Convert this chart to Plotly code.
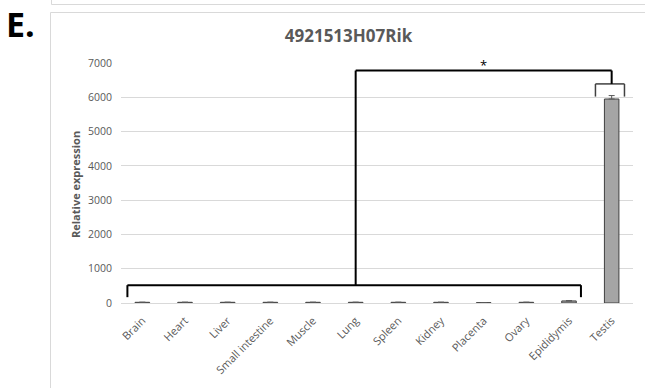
import plotly.graph_objects as go

# ---- data ----
tissues = ["Brain", "Heart", "Liver", "Small intestine", "Muscle", "Lung",
           "Spleen", "Kidney", "Placenta", "Ovary", "Epididymis", "Testis"]
expression = [20, 20, 20, 20, 20, 20, 20, 20, 10, 20, 60, 5950]
error_up = [0, 0, 0, 0, 0, 0, 0, 0, 0, 0, 10, 100]
error_down = [0, 0, 0, 0, 0, 0, 0, 0, 0, 0, 0, 0]
y_ticks = [0, 1000, 2000, 3000, 4000, 5000, 6000, 7000]
title_text = "4921513H07Rik"
y_title = "Relative expression"
panel_label = "E."
sig_label = "*"

# significance brackets (category index / value units)
group_bracket = dict(x0=-0.35, x1=10.28, y_top=520, y_end=170)
testis_bracket = dict(x0=10.62, x1=11.3, y_top=6390, y_end=6020)
link_y = 6780
link_x0 = 5
link_x1 = 11

W, H = 645, 388
L, R, T, B = 121, 12, 63, 85
pw, ph = W - L - R, H - T - B

def px_x(p):
    return (p - L) / pw

def px_y(p):
    return (H - B - p) / ph

grey_txt = "#595959"
line_col = "#000000"

fig = go.Figure()
fig.add_trace(go.Bar(
    x=tissues, y=expression,
    marker=dict(color="#a5a5a5", line=dict(color="#404040", width=1)),
    error_y=dict(type="data", array=error_up, arrayminus=error_down, visible=True,
                 color="#595959", thickness=1, width=3),
    showlegend=False,
))

shapes = []
lw = 2
gb = group_bracket
shapes.append(dict(type="line", xref="x", yref="y", x0=gb["x0"], x1=gb["x1"],
                   y0=gb["y_top"], y1=gb["y_top"], line=dict(color=line_col, width=lw)))
shapes.append(dict(type="line", xref="x", yref="y", x0=gb["x0"], x1=gb["x0"],
                   y0=gb["y_top"], y1=gb["y_end"], line=dict(color=line_col, width=lw)))
shapes.append(dict(type="line", xref="x", yref="y", x0=gb["x1"], x1=gb["x1"],
                   y0=gb["y_top"], y1=gb["y_end"], line=dict(color=line_col, width=lw)))
tb = testis_bracket
shapes.append(dict(type="line", xref="x", yref="y", x0=tb["x0"], x1=tb["x1"],
                   y0=tb["y_top"], y1=tb["y_top"], line=dict(color="#404040", width=1.5)))
shapes.append(dict(type="line", xref="x", yref="y", x0=tb["x0"], x1=tb["x0"],
                   y0=tb["y_top"], y1=tb["y_end"], line=dict(color="#404040", width=1.5)))
shapes.append(dict(type="line", xref="x", yref="y", x0=tb["x1"], x1=tb["x1"],
                   y0=tb["y_top"], y1=tb["y_end"], line=dict(color="#404040", width=1.5)))
shapes.append(dict(type="line", xref="x", yref="y", x0=link_x0, x1=link_x0,
                   y0=gb["y_top"], y1=link_y, line=dict(color=line_col, width=lw)))
shapes.append(dict(type="line", xref="x", yref="y", x0=link_x0, x1=link_x1,
                   y0=link_y, y1=link_y, line=dict(color=line_col, width=lw)))
shapes.append(dict(type="line", xref="x", yref="y", x0=link_x1, x1=link_x1,
                   y0=link_y, y1=tb["y_top"], line=dict(color=line_col, width=lw)))

# panel frames
shapes.append(dict(type="rect", xref="paper", yref="paper",
                   x0=px_x(50.5), x1=px_x(700), y0=px_y(420), y1=px_y(12.5),
                   line=dict(color="#d9d9d9", width=1), layer="below"))
shapes.append(dict(type="rect", xref="paper", yref="paper",
                   x0=px_x(51.5), x1=px_x(700), y0=px_y(4.5), y1=px_y(-20),
                   line=dict(color="#d9d9d9", width=1), layer="below"))

annotations = [
    dict(text=sig_label, xref="x", yref="y", x=(link_x0 + link_x1) / 2, y=link_y,
         yanchor="bottom", showarrow=False, yshift=-5,
         font=dict(family="Open Sans", size=13, color="#000000")),
    dict(text=f"<b>{panel_label}</b>", xref="paper", yref="paper",
         x=px_x(5), y=px_y(0), xanchor="left", yanchor="top", showarrow=False,
         borderpad=0,
         font=dict(family="Open Sans", size=34, color="#000000")),
    dict(text=f"<b>{y_title}</b>", xref="paper", yref="paper",
         x=px_x(75), y=px_y(185), xanchor="center", yanchor="middle",
         textangle=-90, showarrow=False,
         font=dict(family="Open Sans", size=11, color=grey_txt)),
]

fig.update_layout(
    width=W, height=H,
    margin=dict(l=L, r=R, t=T, b=B, autoexpand=False),
    paper_bgcolor="white", plot_bgcolor="white",
    title=dict(text=f"<b>{title_text}</b>", x=348.5 / W, xanchor="center",
               y=1 - 36 / H, yanchor="middle",
               font=dict(family="Open Sans", size=17, color=grey_txt)),
    bargap=0.66,
    shapes=shapes,
    annotations=annotations,
    font=dict(family="Open Sans", color=grey_txt),
)
fig.update_xaxes(
    type="category", tickangle=-45, automargin=False,
    tickfont=dict(family="Open Sans", size=11, color=grey_txt),
    showline=True, linecolor="#d9d9d9", linewidth=1,
    showgrid=False, ticks="", ticklabelstandoff=6,
)
fig.update_yaxes(
    range=[0, 7000], tickvals=y_ticks, automargin=False,
    tickfont=dict(family="Open Sans", size=10.5, color=grey_txt),
    showgrid=True, gridcolor="#d9d9d9", gridwidth=1,
    zeroline=False, showline=False, ticks="",
    ticklabelstandoff=8,
)

fig.write_html("out.html", config={"displayModeBar": False},
               post_script="document.body.style.margin='0';document.body.style.overflow='hidden';")
